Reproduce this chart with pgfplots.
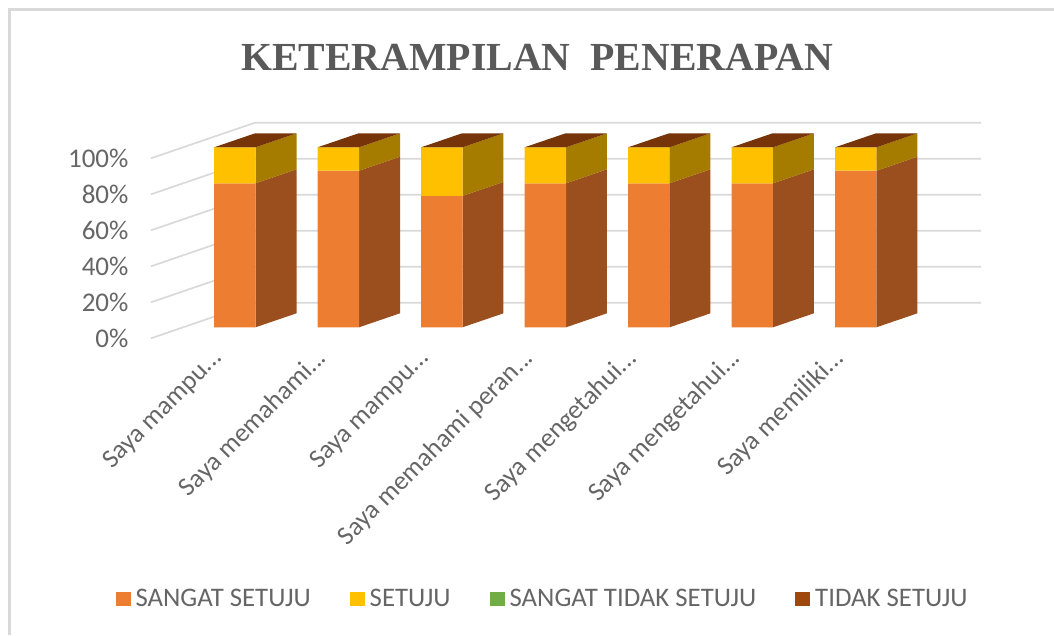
\documentclass[border=0pt]{standalone}
\usepackage{fontspec}
\setmainfont{Carlito}
\newfontfamily\titlefont{Liberation Serif}
\usepackage{pgfplots}
\pgfplotsset{compat=1.18}
\usepackage{pgfplotstable}

\definecolor{txt}{HTML}{595959}
\definecolor{lbl}{HTML}{666666}
\definecolor{gridc}{HTML}{D9D9D9}
\definecolor{orangefr}{HTML}{ED7D31}
\definecolor{orangesd}{HTML}{9C4F1E}
\definecolor{yellowfr}{HTML}{FFC000}
\definecolor{yellowsd}{HTML}{A57C00}
\definecolor{greenfr}{HTML}{70AD47}
\definecolor{brownfr}{HTML}{9E480E}
\definecolor{browntp}{HTML}{763408}

\newcommand\dd{...}

% percent per statement, 0 to 6
\pgfplotstableread{
pos  ss  s   sts ts
0.81 80  20  0   0
1.81 87  13  0   0
2.81 73  27  0   0
3.81 80  20  0   0
4.81 80  20  0   0
5.81 80  20  0   0
6.81 87  13  0   0
}\datatable

\begin{document}
\begin{tikzpicture}[x=1pt,y=1pt]
\useasboundingbox (0,0) rectangle (1054,635);
\draw[gridc,line width=2.5pt] (9.5,0) -- (9.5,625.5) -- (1054,625.5);
\node[anchor=center,font=\titlefont\fontsize{39.8}{40}\selectfont\bfseries,text=txt] at (537,578) {KETERAMPILAN\ \ PENERAPAN};
\begin{axis}[
    at={(151pt,296.7pt)}, anchor=south west,
    width=830pt, height=215.6pt,
    scale only axis,
    xmin=0, xmax=8.02,
    ymin=-6.11, ymax=113.67,
    axis line style={draw=none},
    clip=false,
    bar width=0.4,
    /pgf/number format/assume math mode=true,
    % 0% on the wall sits below the front of the bars
    ytick={-6.11,13.89,33.89,53.89,73.89,93.89},
    yticklabels={0\%,20\%,40\%,60\%,80\%,100\%},
    xtick={0.505,1.505,2.505,3.505,4.505,5.505,6.505},
    xticklabels={Saya mampu\dd,Saya memahami\dd,Saya mampu\dd,Saya memahami peran\dd,Saya mengetahui\dd,Saya mengetahui\dd,Saya memiliki\dd},
    tick style={draw=none},
    yticklabel style={font=\fontsize{27}{27}\selectfont,text=lbl,anchor=east,xshift=-19pt},
    xticklabel style={font=\fontsize{26.4}{27}\selectfont,text=lbl,rotate=45,anchor=north east,inner sep=0pt,yshift=-11pt},
    legend style={at={(0.4717,-1.2092)},anchor=center,draw=none,fill=none,
        font=\fontsize{26.8}{27}\selectfont,text=lbl,
        legend columns=-1,
        /tikz/every even column/.append style={column sep=37pt}},
    legend cell align=left,
    area legend,
    legend image code/.code={\fill[#1] (0pt,-7pt) rectangle (15pt,7pt); \path (18pt,0pt);},
]
% wall lines: front edge, slant to the back, along the back
\pgfplotsforeachungrouped \v in {-6.11,13.89,33.89,53.89,73.89,93.89}{
    \pgfmathsetmacro\vb{\v+19.78}
    \edef\cmd{\noexpand\addplot[forget plot,draw=gridc,line width=1.7pt] coordinates {(0,\v) (1.005,\vb) (8.02,\vb)};}
    \cmd
}
% bar sides and tops, one set per statement
\pgfplotsforeachungrouped \x/\o in {0.61/80,1.61/87,2.61/73,3.61/80,4.61/80,5.61/80,6.61/87}{
    \pgfmathsetmacro\xa{\x+0.4}
    \pgfmathsetmacro\xb{\x+0.796}
    \pgfmathsetmacro\xc{\x+0.396}
    \pgfmathsetmacro\oo{\o+7.78}
    \edef\cmd{%
      \noexpand\addplot[forget plot,fill=orangesd,draw=none] coordinates {(\xa,0) (\xb,7.78) (\xb,\oo) (\xa,\o)} -- cycle;
      \noexpand\addplot[forget plot,fill=yellowsd,draw=none] coordinates {(\xa,\o) (\xb,\oo) (\xb,107.78) (\xa,100)} -- cycle;
      \noexpand\addplot[forget plot,fill=browntp,draw=none] coordinates {(\x,100) (\xc,107.78) (\xb,107.78) (\xa,100)} -- cycle;}
    \cmd
}
% bar fronts and legend
\addplot[ybar,stack plots=y,bar shift=0pt,fill=orangefr,draw=none] table[x=pos,y=ss] {\datatable};
\addplot[ybar,stack plots=y,bar shift=0pt,fill=yellowfr,draw=none] table[x=pos,y=s] {\datatable};
\addplot[ybar,stack plots=y,bar shift=0pt,fill=greenfr,draw=none] table[x=pos,y=sts] {\datatable};
\addplot[ybar,stack plots=y,bar shift=0pt,fill=brownfr,draw=none] table[x=pos,y=ts] {\datatable};
\legend{SANGAT SETUJU,SETUJU,SANGAT TIDAK SETUJU,TIDAK SETUJU}
\end{axis}
\end{tikzpicture}
\end{document}
